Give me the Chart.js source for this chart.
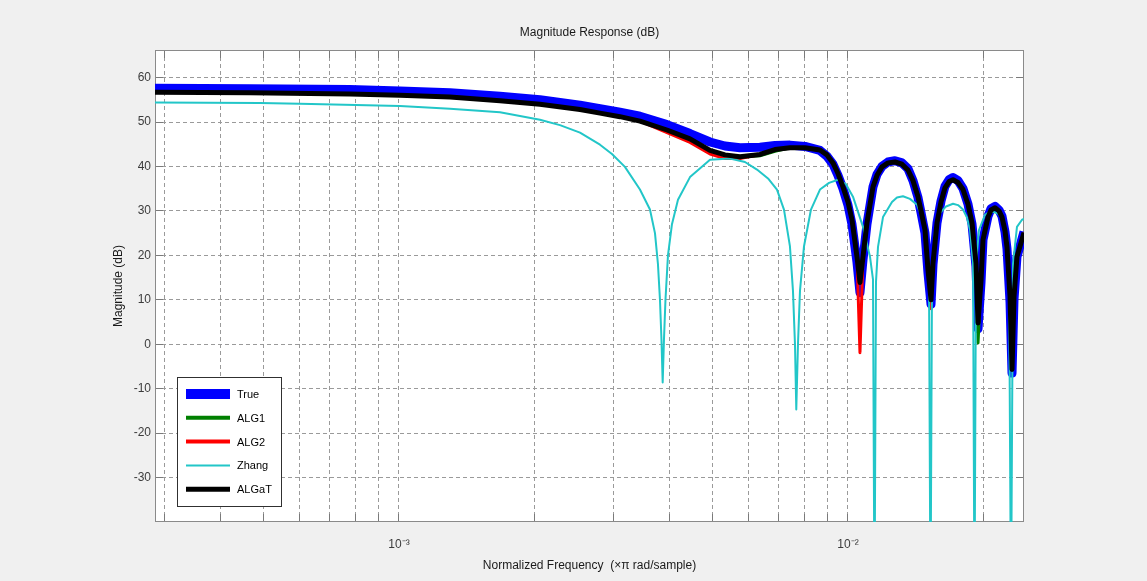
<!DOCTYPE html>
<html><head><meta charset="utf-8">
<script src="https://cdn.jsdelivr.net/npm/chart.js@4.4.0/dist/chart.umd.min.js"></script>
<style>html,body{margin:0;padding:0;background:#f0f0f0;}#wrap{width:1147px;height:581px;}</style>
</head><body><div id="wrap"><canvas id="c" width="1147" height="581"></canvas></div>
<script>
// ---- data (frequency in x pi rad/sample, magnitude in dB) ----
const seriesNames = ['True', 'ALG1', 'ALG2', 'Zhang', 'ALGaT'];

const mainFreq = [2.862e-4, 4.658e-4, 7.777e-4, 1.0051e-3, 1.2991e-3, 1.6788e-3, 2.0606e-3, 2.5305e-3, 2.8035e-3, 3.1060e-3,
  3.4410e-3, 3.9526e-3, 4.4480e-3, 4.9285e-3, 5.322e-3, 5.7479e-3, 6.3680e-3, 6.877e-3, 7.4260e-3, 8.021e-3,
  8.6620e-3, 8.9783e-3, 9.2597e-3, 9.4994e-3, 9.7468e-3, 1.0000e-2, 1.0207e-2, 1.0471e-2, 1.0634e-2, 1.0800e-2,
  1.1022e-2, 1.1368e-2, 1.1604e-2, 1.1906e-2, 1.2276e-2, 1.2725e-2, 1.3193e-2, 1.3604e-2, 1.3958e-2, 1.4320e-2,
  1.4543e-2, 1.4843e-2, 1.5073e-2, 1.5307e-2, 1.5465e-2, 1.5785e-2, 1.6112e-2, 1.6444e-2, 1.6789e-2, 1.7136e-2,
  1.7581e-2, 1.8037e-2, 1.8504e-2, 1.8890e-2, 1.9278e-2, 1.9481e-2, 1.9784e-2, 1.9983e-2, 2.0502e-2, 2.0821e-2,
  2.1254e-2, 2.1692e-2, 2.2028e-2, 2.2372e-2, 2.2600e-2, 2.2954e-2, 2.3191e-2, 2.3426e-2, 2.3787e-2, 2.4660e-2];

const trueMag = [57.6, 57.5, 57.3, 57.0, 56.6, 55.8, 55.0, 53.8, 53.0, 52.2,
  51.3, 49.4, 47.4, 45.5, 44.6, 44.2, 44.3, 44.7, 44.8, 44.5,
  43.6, 42.3, 40.5, 38.0, 35.0, 31.3, 27.0, 18.5, 11.6, 19.0,
  27.0, 35.4, 38.2, 40.0, 41.0, 41.3, 40.8, 39.5, 36.8, 33.0,
  29.6, 25.0, 16.0, 9.0, 18.0, 27.3, 32.2, 35.5, 37.0, 37.5,
  36.8, 35.0, 31.5, 27.0, 17.5, 3.5, 14.0, 23.5, 28.8, 30.5,
  31.0, 30.2, 28.8, 25.3, 21.5, 9.5, -6.5, 10.0, 19.7, 25.3];

const alg1Mag = [56.7, 56.6, 56.3, 56.0, 55.6, 54.8, 54.0, 52.8, 52.0, 51.2,
  50.2, 48.2, 46.2, 43.6, 42.6, 42.2, 42.4, 43.4, 44.2, 44.2,
  43.7, 42.6, 40.8, 38.4, 35.4, 32.0, 28.0, 19.7, 13.9, 19.7,
  27.3, 35.4, 38.0, 39.9, 40.8, 41.0, 40.5, 39.2, 36.8, 33.2,
  30.0, 25.7, 16.7, 10.0, 18.3, 27.3, 32.0, 35.2, 36.6, 37.0,
  36.4, 34.8, 31.5, 27.3, 18.3, 0.3, 14.5, 23.5, 28.6, 30.2,
  30.7, 30.0, 28.6, 25.5, 21.9, 10.7, -5.7, 10.7, 19.7, 25.1];

const alg2Mag = [56.7, 56.6, 56.3, 56.0, 55.6, 54.8, 54.0, 52.8, 52.0, 51.2,
  50.2, 47.6, 45.4, 42.8, 41.8, 41.8, 42.7, 43.8, 44.2, 44.2,
  43.7, 42.6, 40.8, 38.4, 35.4, 32.0, 28.0, 19.7, -1.9, 19.7,
  27.3, 35.4, 38.0, 39.9, 40.8, 41.0, 40.5, 39.2, 36.8, 33.2,
  30.0, 25.7, 16.7, 8.0, 18.3, 27.3, 32.0, 35.2, 36.6, 37.0,
  36.4, 34.8, 31.5, 27.3, 18.3, 4.8, 14.5, 23.5, 28.6, 30.2,
  30.7, 30.0, 28.6, 25.5, 21.9, 10.7, -5.7, 10.7, 19.7, 25.1];

const algatMag = [56.7, 56.6, 56.3, 56.0, 55.6, 54.8, 54.0, 52.8, 52.0, 51.2,
  50.2, 48.2, 46.2, 43.6, 42.6, 42.2, 42.7, 43.8, 44.2, 44.2,
  43.7, 42.6, 40.8, 38.4, 35.4, 32.0, 28.0, 19.7, 13.9, 19.7,
  27.3, 35.4, 38.0, 39.9, 40.8, 41.0, 40.5, 39.2, 36.8, 33.2,
  30.0, 25.7, 16.7, 10.0, 18.3, 27.3, 32.0, 35.2, 36.6, 37.0,
  36.4, 34.8, 31.5, 27.3, 18.3, 4.8, 14.5, 23.5, 28.6, 30.2,
  30.7, 30.0, 28.6, 25.5, 21.9, 10.7, -5.7, 10.7, 19.7, 25.1];

const zhangFreq = [2.862e-4, 4.901e-4, 6.020e-4, 1.0051e-3, 1.2991e-3, 1.6788e-3, 2.0606e-3, 2.2833e-3, 2.5305e-3, 2.8035e-3,
  2.9809e-3, 3.186e-3, 3.4410e-3, 3.6223e-3, 3.7166e-3, 3.7740e-3, 3.8130e-3, 3.8425e-3, 3.8663e-3, 3.8921e-3,
  3.9222e-3, 3.9727e-3, 4.0551e-3, 4.1820e-3, 4.4480e-3, 4.9285e-3, 5.4608e-3, 5.8964e-3, 6.2705e-3, 6.6358e-3,
  6.9475e-3, 7.2021e-3, 7.4260e-3, 7.5417e-3, 7.6200e-3, 7.6710e-3, 7.7380e-3, 7.8179e-3, 7.9799e-3, 8.2710e-3,
  8.6620e-3, 9.0734e-3, 9.4994e-3, 9.8980e-3, 1.0259e-2, 1.0800e-2, 1.1194e-2, 1.1368e-2, 1.1456e-2, 1.1544e-2,
  1.1664e-2, 1.1967e-2, 1.2531e-2, 1.2855e-2, 1.3259e-2, 1.3742e-2, 1.4247e-2, 1.4690e-2, 1.4996e-2, 1.5150e-2,
  1.5267e-2, 1.5386e-2, 1.5625e-2, 1.6030e-2, 1.6533e-2, 1.7136e-2, 1.7581e-2, 1.8037e-2, 1.8409e-2, 1.8697e-2,
  1.8988e-2, 1.9130e-2, 1.9278e-2, 1.9577e-2, 2.0190e-2, 2.0609e-2, 2.1035e-2, 2.1581e-2, 2.2028e-2, 2.2600e-2,
  2.2833e-2, 2.3069e-2, 2.3306e-2, 2.3787e-2, 2.4411e-2, 2.4660e-2];

const zhangMag = [54.4, 54.3, 54.1, 53.6, 53.0, 52.2, 50.5, 49.3, 47.6, 44.9,
  42.8, 39.9, 34.8, 30.3, 25.0, 18.0, 10.0, 1.0, -8.6, 1.0,
  10.0, 20.0, 27.0, 32.5, 37.6, 41.5, 41.8, 41.0, 39.3, 37.3,
  34.8, 30.3, 22.0, 12.0, 0.0, -14.7, 0.0, 12.0, 22.0, 30.3,
  34.8, 36.3, 37.0, 36.0, 33.2, 26.4, 19.7, 14.6, -60, 14.0,
  21.9, 28.6, 32.0, 33.0, 33.3, 32.7, 31.4, 28.0, 21.9, 14.6,
  -60, 14.0, 25.7, 29.5, 31.0, 31.6, 31.3, 30.3, 28.5, 25.7,
  18.3, -60, 18.0, 25.7, 29.1, 29.7, 29.8, 29.4, 28.4, 24.1,
  18.3, -60, 18.0, 26.4, 28.0, 28.2];

const xTickValues = [3e-4, 4e-4, 5e-4, 6e-4, 7e-4, 8e-4, 9e-4,
  1e-3, 2e-3, 3e-3, 4e-3, 5e-3, 6e-3, 7e-3, 8e-3, 9e-3, 1e-2, 2e-2];
const xTickLabels = {'0.001': '10\u207B\u00B3', '0.01': '10\u207B\u00B2'};
const yTickValues = [-30, -20, -10, 0, 10, 20, 30, 40, 50, 60];
const xRange = [2.862e-4, 2.466e-2];
const yRange = [-40, 66.2];

// ---- chart ----
const pts = (f, m) => f.map((v, i) => ({x: v, y: m[i]}));
const FONT = "'Liberation Sans', Arial, sans-serif";
const align = p => Math.round(p - 0.5) + 0.5;

const decor = {
  id: 'decor',
  beforeDraw(chart) {
    const {ctx, chartArea: a} = chart;
    ctx.save();
    ctx.fillStyle = '#f0f0f0';
    ctx.fillRect(0, 0, chart.width, chart.height);
    ctx.fillStyle = '#ffffff';
    ctx.fillRect(a.left, a.top, a.right - a.left, a.bottom - a.top);
    ctx.restore();
  },
  beforeDatasetsDraw(chart) {
    const {ctx, chartArea: a, scales} = chart;
    ctx.save();
    ctx.strokeStyle = '#7a7a7a';
    ctx.lineWidth = 1;
    ctx.beginPath();
    xTickValues.forEach(v => {
      const p = align(scales.x.getPixelForValue(v));
      ctx.moveTo(p, a.bottom); ctx.lineTo(p, a.bottom - 8);
      ctx.moveTo(p, a.top); ctx.lineTo(p, a.top + 8);
    });
    yTickValues.forEach(v => {
      const p = align(scales.y.getPixelForValue(v));
      ctx.moveTo(a.left, p); ctx.lineTo(a.left + 8, p);
      ctx.moveTo(a.right, p); ctx.lineTo(a.right - 8, p);
    });
    ctx.stroke();
    ctx.strokeStyle = '#8a8a8a';
    ctx.strokeRect(a.left + 0.5, a.top + 0.5, a.right - a.left - 1, a.bottom - a.top - 1);
    ctx.restore();
  },
  afterDraw(chart) {
    const {ctx, chartArea: a} = chart;
    const ds = chart.data.datasets;
    const bx = a.left + 22, by = a.bottom - 145, bw = 104, bh = 129;
    ctx.save();
    ctx.fillStyle = '#ffffff';
    ctx.fillRect(bx, by, bw, bh);
    ctx.strokeStyle = '#303030';
    ctx.lineWidth = 1;
    ctx.strokeRect(bx + 0.5, by + 0.5, bw, bh);
    ctx.font = '11px ' + FONT;
    ctx.textBaseline = 'middle';
    ctx.fillStyle = '#000';
    ds.forEach((d, i) => {
      const y = by + 17 + i * 23.8;
      ctx.strokeStyle = d.borderColor;
      ctx.lineWidth = d.legendWidth;
      ctx.beginPath();
      ctx.moveTo(bx + 9, y); ctx.lineTo(bx + 53, y);
      ctx.stroke();
      ctx.fillText(d.label, bx + 60, y + 1);
    });
    ctx.restore();
  }
};

const common = {pointRadius: 0, tension: 0, fill: false, clip: 0, borderJoinStyle: 'round', borderCapStyle: 'butt'};

new Chart(document.getElementById('c'), {
  type: 'line',
  data: {
    datasets: [
      Object.assign({label: seriesNames[0], data: pts(mainFreq, trueMag), borderColor: '#0000ff', borderWidth: 9, legendWidth: 10, order: 4}, common),
      Object.assign({label: seriesNames[1], data: pts(mainFreq, alg1Mag), borderColor: '#008000', borderWidth: 3, legendWidth: 4, order: 3}, common),
      Object.assign({label: seriesNames[2], data: pts(mainFreq, alg2Mag), borderColor: '#ff0000', borderWidth: 3, legendWidth: 4, order: 2}, common),
      Object.assign({label: seriesNames[3], data: pts(zhangFreq, zhangMag), borderColor: '#22c6c8', borderWidth: 2, legendWidth: 2, order: 1}, common),
      Object.assign({label: seriesNames[4], data: pts(mainFreq, algatMag), borderColor: '#000000', borderWidth: 5, legendWidth: 5, order: 0}, common)
    ]
  },
  options: {
    responsive: false,
    animation: false,
    devicePixelRatio: 1,
    layout: {padding: {left: 0, right: 123, top: 0, bottom: 0}},
    plugins: {
      legend: {display: false},
      tooltip: {enabled: false},
      title: {
        display: true, text: 'Magnitude Response (dB)', fullSize: false,
        color: '#1a1a1a', font: {family: FONT, size: 12, weight: 'normal'},
        padding: {top: 25, bottom: 10.6}
      }
    },
    scales: {
      x: {
        type: 'logarithmic', min: xRange[0], max: xRange[1],
        afterBuildTicks: s => { s.ticks = xTickValues.map(v => ({value: v})); },
        afterFit: s => { s.height = 59; },
        ticks: {
          autoSkip: false, maxRotation: 0, minRotation: 0, padding: 15,
          color: '#3c3c3c', font: {family: FONT, size: 12},
          callback: v => xTickLabels[String(v)] || ''
        },
        grid: {color: '#9a9a9a', lineWidth: 1, drawTicks: false},
        border: {display: false, dash: [4, 3]},
        title: {display: true, text: 'Normalized Frequency  (\u00D7\u03C0 rad/sample)', color: '#1a1a1a',
          font: {family: FONT, size: 12}, padding: {top: 0, bottom: 8}}
      },
      y: {
        type: 'linear', min: yRange[0], max: yRange[1],
        afterBuildTicks: s => { s.ticks = yTickValues.map(v => ({value: v})); },
        afterFit: s => { s.width = 155; },
        ticks: {padding: 4, color: '#3c3c3c', font: {family: FONT, size: 12}},
        grid: {color: '#9a9a9a', lineWidth: 1, drawTicks: false},
        border: {display: false, dash: [4, 3]},
        title: {display: true, text: 'Magnitude (dB)', color: '#1a1a1a',
          font: {family: FONT, size: 12}, padding: {top: 111, bottom: 0}}
      }
    }
  },
  plugins: [decor]
});
</script></body></html>
